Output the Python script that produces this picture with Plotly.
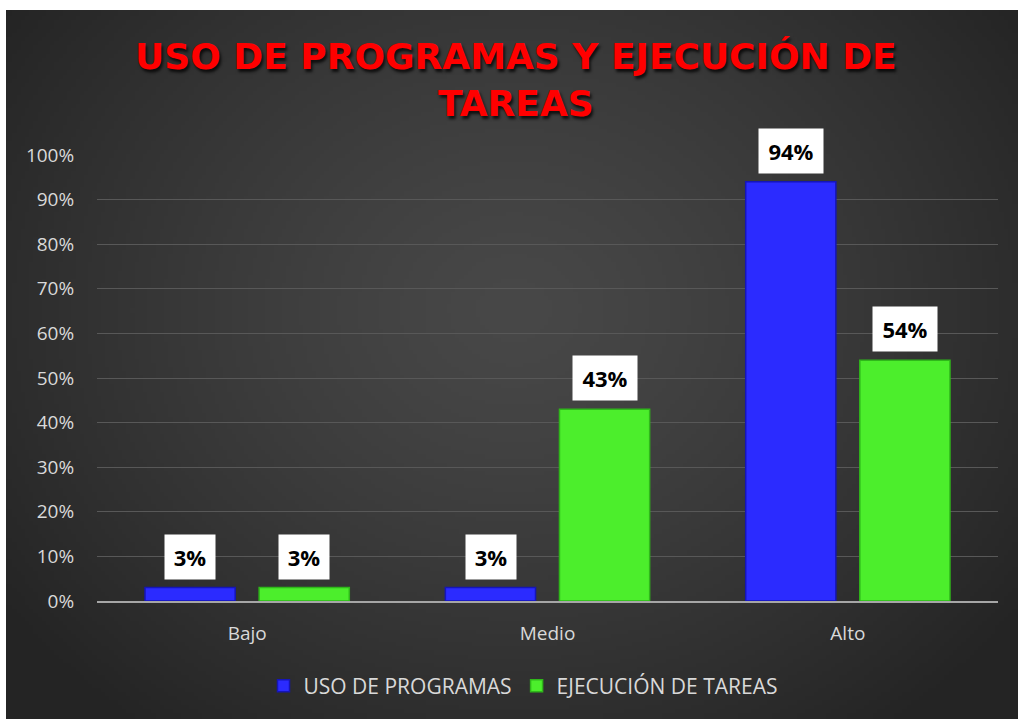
import base64, struct, zlib
import numpy as np
import plotly.graph_objects as go

# ---------------- data ----------------
categories = ["Bajo", "Medio", "Alto"]
series_names = ["USO DE PROGRAMAS", "EJECUCIÓN DE TAREAS"]
uso_programas = [0.03, 0.03, 0.94]
ejecucion_tareas = [0.03, 0.43, 0.54]
value_labels_uso = ["3%", "3%", "94%"]
value_labels_ejec = ["3%", "43%", "54%"]
y_tickvals = [0, 0.1, 0.2, 0.3, 0.4, 0.5, 0.6, 0.7, 0.8, 0.9, 1.0]
y_ticktext = ["0%", "10%", "20%", "30%", "40%", "50%", "60%", "70%", "80%", "90%", "100%"]
title_text = "USO DE PROGRAMAS Y EJECUCIÓN DE<br>TAREAS"

# ---------------- layout constants ----------------
W, H = 1018, 719
ML, MR, MT, MB = 97, 20, 155, 118
PW, PH = W - ML - MR, H - MT - MB


def radial_png(w=240, h=170):
    yy, xx = np.mgrid[0:h, 0:w]
    cx, cy = 0.5 * w, 0.42 * h
    d = np.sqrt(((xx - cx) / (0.62 * w)) ** 2 + ((yy - cy) / (0.75 * h)) ** 2)
    d = np.clip(d, 0, 1)
    inner, outer = 72.0, 36.0
    v = (inner + (outer - inner) * d ** 1.3).astype(np.uint8)
    raw = b"".join(b"\x00" + bytes(np.repeat(v[r], 3)) for r in range(h))

    def chunk(t, data):
        c = struct.pack(">I", len(data)) + t + data
        return c + struct.pack(">I", zlib.crc32(t + data) & 0xFFFFFFFF)

    png = b"\x89PNG\r\n\x1a\n" + chunk(b"IHDR", struct.pack(">IIBBBBB", w, h, 8, 2, 0, 0, 0))
    png += chunk(b"IDAT", zlib.compress(raw, 9)) + chunk(b"IEND", b"")
    return "data:image/png;base64," + base64.b64encode(png).decode()


fig = go.Figure()
fig.add_trace(go.Bar(
    name=series_names[0], x=categories, y=uso_programas,
    marker=dict(color="#2b2bff", line=dict(color="#1515b8", width=1.5)),
))
fig.add_trace(go.Bar(
    name=series_names[1], x=categories, y=ejecucion_tareas,
    marker=dict(color="#4cee2c", line=dict(color="#2fb81a", width=1.5)),
))

# data labels (white boxes)
bar_offset_px = 57
for vals, labels, shift in [(uso_programas, value_labels_uso, -bar_offset_px),
                            (ejecucion_tareas, value_labels_ejec, bar_offset_px)]:
    for c, v, t in zip(categories, vals, labels):
        fig.add_annotation(
            x=c, y=v, xref="x", yref="y", text="<b>" + t + "</b>", showarrow=False,
            xshift=shift, yshift=8, yanchor="bottom",
            font=dict(family="Open Sans", size=22, color="#000000"),
            bgcolor="#ffffff", borderpad=7, width=len(t) * 14 + 8,
        )

# title
fig.add_annotation(
    x=(516 - ML) / PW, y=(MT + PH - 34) / PH, xref="paper", yref="paper",
    text="<b>" + title_text + "</b>", showarrow=False, xanchor="center", yanchor="top",
    font=dict(family="DejaVu Sans", size=36, color="#ff0000",
              shadow="2px 3px 3px rgba(0,0,0,0.75)"),
)

# background panel (gradient), from x=6px, y=10px to the page edges
fig.add_layout_image(
    source=radial_png(), xref="paper", yref="paper",
    x=(6 - ML) / PW, y=(MT + PH - 10) / PH,
    sizex=(W - 6) / PW, sizey=(H - 10) / PH,
    xanchor="left", yanchor="top", sizing="stretch", layer="below",
)

fig.update_layout(
    width=W, height=H,
    margin=dict(l=ML, r=MR, t=MT, b=MB, pad=0),
    paper_bgcolor="#ffffff", plot_bgcolor="rgba(0,0,0,0)",
    barmode="group", bargap=0.24, bargroupgap=0.21,
    showlegend=True,
    legend=dict(orientation="h", x=(523 - ML) / PW, xanchor="center", y=(601 - 686) / PH,
                yanchor="middle",
                font=dict(family="Open Sans", size=21, color="#d9d9d9"),
                bgcolor="rgba(0,0,0,0)", itemwidth=30, traceorder="normal"),
    font=dict(family="Open Sans", color="#d9d9d9"),
)
fig.update_yaxes(
    range=[0, 1.0], tickvals=y_tickvals, ticktext=y_ticktext,
    showgrid=True, gridcolor="#585858", gridwidth=1,
    zeroline=False, showline=False,
    ticks="outside", ticklen=18, tickcolor="rgba(0,0,0,0)",
    tickfont=dict(family="Open Sans", size=19, color="#d9d9d9"),
    fixedrange=True,
)
fig.update_xaxes(
    showline=True, linecolor="#a6a6a6", linewidth=2,
    showgrid=False, ticks="outside", ticklen=14, tickcolor="rgba(0,0,0,0)",
    tickfont=dict(family="Open Sans", size=19, color="#d9d9d9"),
    fixedrange=True,
)

fig.write_html(
    "out.html",
    config={"displayModeBar": False},
    post_script="document.body.style.margin='0';document.body.style.overflow='hidden';",
)
